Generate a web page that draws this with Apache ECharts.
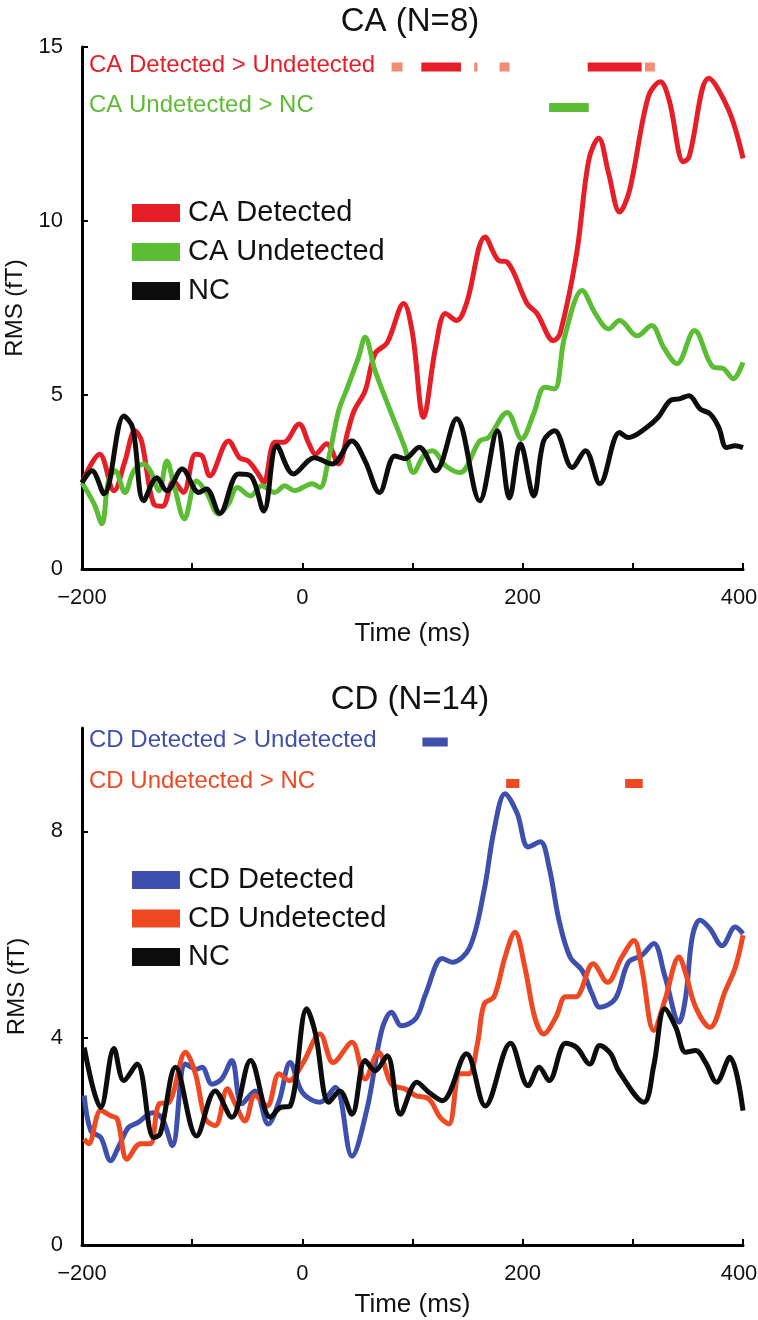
<!DOCTYPE html>
<html>
<head>
<meta charset="utf-8">
<script src="https://cdn.jsdelivr.net/npm/echarts@6/dist/echarts.min.js"></script>
<style>
html,body{margin:0;padding:0;background:#fff;}
#chart{width:758px;height:1320px;}
</style>
</head>
<body>
<div id="chart"></div>
<script>
// ---------- DATA ----------
const xTickLabels = [-200, 0, 200, 400];
const caYTicks = [0, 5, 10, 15];
const cdYTicks = [0, 4, 8];

// CA panel
const caDetT = [-200,-184,-171,-161,-152,-146,-135,-127,-117,-108,-97,-91,-84,-67,-57,-49,-40,-35,-25,-17,-3,6,12,22,33,41,47,57,66,77,92,100,110,121,130,140,149,166,178,186,204,213,228,234,249,260,269,278,288,297,314,325,333,346,351,369,387,400];
const caDetV = [2.48,3.3,2.25,3.1,3.97,3.68,1.87,1.8,2.53,2.2,3.3,3.25,2.68,3.68,3.2,3.1,2.73,2.48,3.64,3.64,4.17,3.6,3.3,3.6,3.02,3.92,4.55,5.12,6.19,6.5,7.63,6.77,4.36,6.37,7.34,7.14,7.63,9.54,8.87,8.82,7.63,7.34,6.56,6.77,9.07,11.75,12.38,11.37,10.26,10.88,13.57,14.0,13.47,11.7,11.84,14.1,13.19,11.8];

const caUndT = [-200,-189,-182,-176,-170,-161,-153,-144,-138,-130,-123,-116,-107,-96,-87,-76,-67,-59,-47,-37,-25,-16,-7,9,16,24,33,41,51,57,66,81,93,101,110,118,130,143,161,169,186,199,210,220,229,238,254,266,278,288,304,317,328,340,356,373,382,391,400];
const caUndV = [2.48,1.87,1.3,2.53,2.82,2.2,2.82,3.02,2.82,2.25,3.1,2.34,1.44,2.53,2.2,1.58,1.87,2.34,2.1,2.39,2.2,2.39,2.25,2.45,2.34,3.2,4.55,5.22,6.08,6.66,5.7,4.46,3.49,2.77,3.25,3.4,2.97,2.77,3.68,3.78,4.5,3.74,4.46,5.22,5.18,6.66,8.0,7.34,6.9,7.14,6.7,7.0,6.37,5.9,6.85,5.8,5.76,5.47,5.94];

const caNcT = [-200,-191,-180,-162,-154,-144,-132,-123,-109,-94,-87,-75,-58,-47,-35,-23,-8,11,27,45,57,70,84,93,106,121,140,161,177,188,198,210,219,229,245,257,270,288,296,311,323,334,342,351,361,370,378,385,393,400];
const caNcV = [2.48,2.82,2.16,4.4,4.06,1.96,2.62,2.25,2.87,2.2,2.3,1.6,2.73,2.68,1.67,3.54,2.73,3.2,3.02,3.68,3.1,2.2,3.25,3.17,3.5,2.82,4.32,1.96,3.97,2.04,3.6,2.1,3.68,3.97,2.92,3.4,2.45,3.92,3.78,4.03,4.36,4.84,4.89,4.98,4.6,4.46,4.07,3.49,3.54,3.49];

// significance intervals [start ms, end ms, strong(1)/weak(0)]
const caDetGtUndSig = [[81,91,0],[108,144,1],[156,159,0],[179,188,0],[259,308,1],[311,320,0]];
const caUndGtNcSig = [[224,260,1]];

// CD panel
const cdDetT = [-198,-192,-183,-174,-167,-158,-149,-136,-127,-118,-106,-96,-91,-82,-73,-64,-55,-43,-31,-21,-11,0,16,30,45,59,72,81,90,103,112,127,136,152,165,174,184,195,205,216,224,233,243,254,263,270,284,296,308,319,329,342,348,354,361,370,381,393,400];
const cdDetV = [2.89,2.21,2.08,1.63,1.89,2.27,2.37,2.56,2.44,1.92,3.5,3.4,3.44,3.11,3.22,3.57,2.73,2.98,2.34,2.79,3.53,2.95,2.76,3.05,1.72,2.66,4.15,4.5,4.24,4.38,4.86,5.54,5.47,5.76,6.86,8.02,8.73,8.35,7.7,7.8,7.31,6.28,5.57,5.31,4.86,4.6,4.76,5.47,5.6,5.83,5.21,4.31,4.8,5.96,6.28,6.12,5.79,6.15,6.02];

const cdUndT = [-198,-194,-183,-174,-168,-159,-147,-138,-130,-121,-106,-97,-88,-79,-68,-61,-52,-43,-32,-21,-12,0,16,28,45,57,69,81,93,103,115,125,133,143,151,159,165,174,184,193,202,211,219,230,239,248,264,277,290,301,308,319,329,342,348,357,370,384,393,400];
const cdUndV = [2.05,1.96,2.6,2.5,2.44,1.66,1.96,1.96,2.73,2.76,3.73,3.31,2.44,2.31,3.02,2.73,2.4,2.89,2.69,3.31,3.18,3.5,4.08,3.53,3.92,3.21,3.73,3.11,3.02,2.89,2.82,2.47,2.34,3.31,3.31,3.9,4.66,4.8,5.57,6.05,5.37,4.4,4.08,4.4,4.8,4.8,5.44,5.08,5.57,5.89,5.37,4.15,4.73,5.57,5.25,4.6,4.21,4.92,5.37,5.99];

const cdNcT = [-198,-183,-171,-162,-150,-135,-129,-115,-96,-79,-64,-47,-29,-20,-11,4,12,24,34,45,57,66,77,89,104,115,127,149,166,189,205,215,224,239,249,261,270,280,287,310,319,329,339,348,357,366,376,388,400];
const cdNcV = [3.82,2.66,3.8,3.18,3.5,2.08,2.15,3.44,2.11,2.98,2.47,3.57,2.47,2.66,2.69,4.57,4.08,2.76,2.98,2.53,3.57,3.37,3.66,2.53,3.15,2.95,2.79,3.7,2.69,3.9,3.08,3.44,3.18,3.9,3.82,3.5,3.86,3.7,3.37,2.76,3.47,4.57,4.21,3.73,3.76,3.53,3.15,3.63,2.6];

const cdDetGtUndSig = [[109,132,1]];
const cdUndGtNcSig = [[185,197,1],[293,309,1]];

// ---------- STYLE ----------
const FONT = "'Liberation Sans', Arial, Helvetica, sans-serif";
const C = {
  red: '#e61e28', green: '#5bbd33', salmon: '#f28c72', black: '#0d0d0d',
  blue: '#3e4fae', orange: '#ef4923'
};

const zip = (t, v) => t.map((x, i) => [x, v[i]]);
const fmtX = v => {
  if (!xTickLabels.includes(v)) return '';
  const s = String(v).replace('-', '\u2212');
  return v === xTickLabels[xTickLabels.length - 1] ? '{last|' + s + '}' : s;
};

function xAxis(gi, gap) {
  return {
    type: 'value', gridIndex: gi, min: -200, max: 400, interval: 100,
    name: 'Time (ms)', nameLocation: 'middle', nameGap: gap,
    nameTextStyle: { fontFamily: FONT, fontSize: 26, color: '#111' },
    axisLine: { show: true, onZero: false, lineStyle: { color: '#000', width: 3 } },
    axisTick: { show: true, inside: true, length: 6, lineStyle: { color: '#000', width: 2 } },
    axisLabel: { show: true, formatter: fmtX, fontFamily: FONT, fontSize: 22, color: '#111', margin: 18,
      rich: { last: { fontFamily: FONT, fontSize: 22, color: '#111', padding: [0, 8, 0, 0] } } },
    splitLine: { show: false }
  };
}
function yAxis(gi, max, interval, ticks) {
  return {
    type: 'value', gridIndex: gi, min: 0, max: max, interval: interval,
    name: 'RMS (fT)', nameLocation: 'middle', nameGap: 53,
    nameTextStyle: { fontFamily: FONT, fontSize: 24, color: '#111' },
    axisLine: { show: true, onZero: false, lineStyle: { color: '#000', width: 3 } },
    axisTick: { show: true, inside: true, length: 6, customValues: ticks, lineStyle: { color: '#000', width: 2 } },
    axisLabel: { show: true, customValues: ticks, fontFamily: FONT, fontSize: 22, color: '#111', margin: 19 },
    splitLine: { show: false }
  };
}
function line(name, data, color, gi) {
  return {
    type: 'line', name: name, xAxisIndex: gi, yAxisIndex: gi,
    data: data, smooth: 0.35, showSymbol: false, symbol: 'none', color: color,
    lineStyle: { color: color, width: 5 }, z: 3
  };
}
function sig(data, gi, rowY, strongColor, weakColor) {
  return {
    type: 'custom', xAxisIndex: gi, yAxisIndex: gi, data: data,
    dimensions: ['start', 'end', 'level'], encode: { x: [0, 1] },
    clip: false, silent: true, z: 4,
    renderItem: function (params, api) {
      const x1 = api.coord([api.value(0), 0])[0];
      const x2 = api.coord([api.value(1), 0])[0];
      return {
        type: 'rect',
        shape: { x: x1, y: rowY - 4.5, width: x2 - x1, height: 9 },
        style: { fill: api.value(2) ? strongColor : weakColor }
      };
    }
  };
}
function label(text, x, y, color) {
  return { type: 'text', left: x, top: y - 14, style: { text: text, fill: color, font: '24px ' + FONT } };
}

const chart = echarts.init(document.getElementById('chart'), null, { renderer: 'canvas' });
chart.setOption({
  backgroundColor: '#fff',
  animation: false,
  title: [
    { text: 'CA (N=8)', left: 405, top: 0, textAlign: 'center', textStyle: { fontFamily: FONT, fontSize: 33, fontWeight: 'normal', color: '#111' } },
    { text: 'CD (N=14)', left: 405, top: 678, textAlign: 'center', textStyle: { fontFamily: FONT, fontSize: 33, fontWeight: 'normal', color: '#111' } }
  ],
  grid: [
    { left: 82, top: 47, width: 661, height: 522, containLabel: false, outerBoundsMode: 'none' },
    { left: 82, top: 728, width: 661, height: 517, containLabel: false, outerBoundsMode: 'none' }
  ],
  xAxis: [xAxis(0, 52), xAxis(1, 47)],
  yAxis: [yAxis(0, 15, 5, caYTicks), yAxis(1, 10, 2, cdYTicks)],
  legend: [
    { data: ['CA Detected', 'CA Undetected', 'NC'], orient: 'vertical', left: 127, top: 193,
      icon: 'rect', itemWidth: 48, itemHeight: 18, itemGap: 9, selectedMode: false,
      textStyle: { fontFamily: FONT, fontSize: 29, lineHeight: 30, color: '#111', padding: [0, 0, 0, 3] } },
    { data: ['CD Detected', 'CD Undetected', 'NC'], orient: 'vertical', left: 127, top: 860,
      icon: 'rect', itemWidth: 48, itemHeight: 18, itemGap: 8.5, selectedMode: false,
      textStyle: { fontFamily: FONT, fontSize: 29, lineHeight: 30, color: '#111', padding: [0, 0, 0, 3] } }
  ],
  graphic: [
    label('CA Detected > Undetected', 89, 67, C.red),
    label('CA Undetected > NC', 89, 107, C.green),
    label('CD Detected > Undetected', 89, 742, C.blue),
    label('CD Undetected > NC', 89, 783, C.orange)
  ],
  series: [
    line('CA Detected', zip(caDetT, caDetV), C.red, 0),
    line('CA Undetected', zip(caUndT, caUndV), C.green, 0),
    line('NC', zip(caNcT, caNcV), C.black, 0),
    sig(caDetGtUndSig, 0, 67, C.red, C.salmon),
    sig(caUndGtNcSig, 0, 107.5, C.green, C.green),
    line('CD Detected', zip(cdDetT, cdDetV), C.blue, 1),
    line('CD Undetected', zip(cdUndT, cdUndV), C.orange, 1),
    line('NC', zip(cdNcT, cdNcV), C.black, 1),
    sig(cdDetGtUndSig, 1, 742, C.blue, C.blue),
    sig(cdUndGtNcSig, 1, 783.5, C.orange, C.orange)
  ]
});
</script>
</body>
</html>
